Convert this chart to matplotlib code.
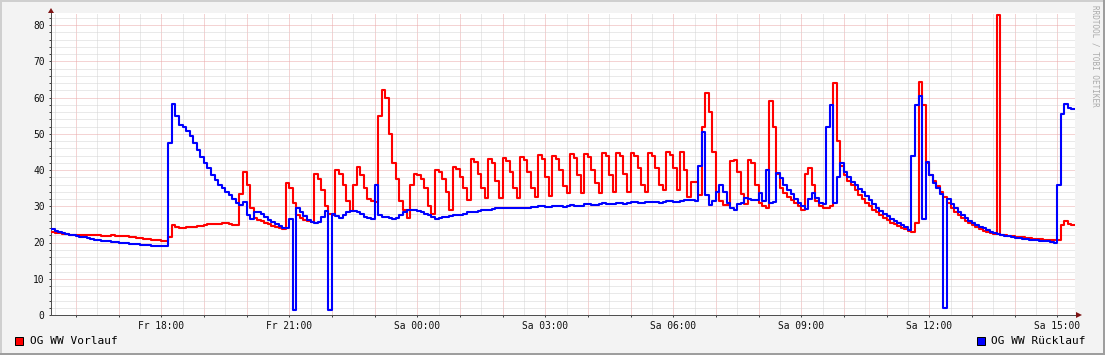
import numpy as np
import matplotlib
matplotlib.use("Agg")
import matplotlib.pyplot as plt
from matplotlib.patches import Polygon, Rectangle
from matplotlib.ticker import FixedLocator, MultipleLocator

# 5 minute samples, Fr 15:25 .. Sa 15:25 (hours counted from Fr 00:00)
START_HOUR = 15 + 25 / 60.0
STEP_HOURS = 5 / 60.0

# OG WW Vorlauf (red), one row per hour
vorlauf = [
    22.8, 22.6, 22.5, 22.4, 22.3, 22.2, 22.2, 22.1, 22.1, 22.0, 22.0, 22.0,
    22.0, 22.0, 21.9, 21.9, 21.9, 22.0, 21.9, 21.8, 21.8, 21.7, 21.6, 21.4,
    21.3, 21.2, 21.1, 21.0, 20.8, 20.7, 20.6, 20.5, 20.5, 21.5, 24.8, 24.2,
    24.1, 24.1, 24.2, 24.3, 24.4, 24.5, 24.6, 24.8, 25.0, 25.0, 25.1, 25.1,
    25.3, 25.3, 25.1, 24.9, 24.7, 33.5, 39.5, 36.0, 29.5, 26.8, 26.2, 25.8,
    25.3, 25.0, 24.6, 24.3, 24.0, 23.7, 36.5, 35.0, 31.0, 27.5, 26.8, 26.3,
    26.0, 25.6, 38.8, 37.5, 34.5, 30.0, 28.0, 27.5, 40.0, 39.0, 36.0, 31.5,
    28.8, 36.0, 40.8, 38.5, 35.0, 32.0, 31.5, 31.2, 55.0, 62.0, 60.0, 50.0,
    42.0, 37.5, 31.5, 29.0, 26.8, 36.0, 38.8, 38.5, 37.5, 35.0, 30.0, 28.0,
    40.0, 39.5, 37.5, 34.0, 29.0, 40.7, 40.2, 38.0, 35.0, 31.7, 43.0, 42.3,
    39.0, 35.0, 32.2, 43.0, 42.0, 37.0, 32.2, 43.2, 42.5, 39.5, 35.0, 32.2,
    43.7, 42.8, 39.5, 35.0, 32.6, 44.1, 43.0, 38.0, 32.8, 43.9, 43.0, 40.0,
    35.5, 33.6, 44.4, 43.3, 38.5, 33.6, 44.4, 43.5, 40.0, 36.5, 33.6, 44.8,
    43.8, 38.5, 33.8, 44.8, 43.8, 39.0, 34.0, 44.8, 44.0, 40.5, 36.0, 34.0,
    44.8, 44.0, 40.5, 36.0, 34.5, 45.1, 44.2, 40.5, 34.5, 45.1, 40.0, 32.5,
    36.8, 36.8, 33.0, 52.0, 61.2, 56.0, 45.0, 34.0, 31.5, 30.3, 30.3, 42.5,
    42.8, 39.5, 33.5, 30.5, 42.8, 42.0, 36.0, 30.8, 30.0, 29.6, 58.9, 52.0,
    39.0, 35.0, 33.6, 32.5, 31.7, 31.0, 30.0, 29.0, 39.0, 40.5, 36.0, 31.5,
    30.0, 29.5, 29.5, 30.0, 64.1, 48.0, 41.0, 38.5, 37.0, 35.8, 34.5, 33.2,
    32.0, 31.0, 30.0, 29.0, 28.3, 27.5, 26.8, 26.2, 25.5, 25.0, 24.5, 24.1,
    23.8, 23.2, 23.0, 25.5, 64.4, 58.0, 42.0, 38.5, 37.0, 35.5, 34.0, 32.5,
    31.0, 29.5, 28.5, 27.5, 26.8, 26.0, 25.4, 24.8, 24.2, 23.7, 23.3, 23.0,
    22.7, 22.4, 82.8, 22.2, 22.0, 21.9, 21.8, 21.6, 21.5, 21.4, 21.3, 21.2,
    21.0, 21.0, 20.9, 20.8, 20.8, 20.7, 20.6, 20.6, 24.8, 25.8, 25.0, 24.9,
]

# OG WW Ruecklauf (blue)
ruecklauf = [
    23.6, 23.3, 23.0, 22.7, 22.4, 22.2, 22.0, 21.8, 21.6, 21.4, 21.2, 21.0,
    20.8, 20.7, 20.5, 20.4, 20.3, 20.2, 20.1, 20.0, 19.9, 19.8, 19.7, 19.6,
    19.5, 19.4, 19.3, 19.2, 19.1, 19.1, 19.0, 19.0, 18.9, 47.5, 58.2, 55.0,
    52.5, 52.0, 50.8, 49.5, 47.5, 45.5, 43.5, 42.0, 40.5, 38.5, 37.2, 36.0,
    35.0, 34.0, 33.0, 32.0, 31.0, 30.3, 31.3, 27.5, 26.5, 28.3, 28.5, 27.8,
    27.0, 26.3, 25.7, 25.0, 24.6, 24.0, 24.0, 26.5, 1.5, 29.4, 28.5, 27.2,
    26.3, 25.7, 25.4, 25.6, 27.0, 28.7, 1.5, 28.0, 27.3, 26.8, 27.5, 28.3,
    28.7, 28.7, 28.3, 27.8, 27.0, 26.7, 26.5, 35.9, 27.6, 27.1, 27.1, 26.8,
    26.4, 26.8, 27.6, 28.3, 29.0, 29.0, 29.0, 28.8, 28.5, 28.0, 27.5, 27.0,
    26.4, 26.8, 27.1, 27.1, 27.4, 27.6, 27.6, 27.6, 27.8, 28.3, 28.5, 28.5,
    28.7, 29.0, 29.0, 29.0, 29.2, 29.4, 29.5, 29.6, 29.6, 29.6, 29.6, 29.6,
    29.6, 29.4, 29.5, 29.8, 29.9, 30.1, 30.1, 29.9, 29.9, 30.0, 30.2, 30.0,
    29.9, 30.1, 30.3, 30.2, 30.0, 30.2, 30.5, 30.5, 30.3, 30.4, 30.6, 30.8,
    30.6, 30.5, 30.7, 30.9, 30.8, 30.6, 30.8, 31.1, 31.2, 31.0, 30.8, 31.1,
    31.3, 31.3, 31.1, 31.0, 31.3, 31.5, 31.5, 31.3, 31.2, 31.5, 31.8, 31.8,
    31.8, 31.5, 41.0, 50.6, 33.0, 30.3, 31.5, 34.0, 35.9, 34.0, 31.0, 29.5,
    29.0, 30.5, 31.0, 32.2, 32.0, 31.7, 31.8, 33.6, 31.5, 40.0, 31.0, 31.2,
    39.3, 37.8, 36.0, 34.5, 33.3, 32.0, 31.0, 30.0, 29.3, 32.0, 33.6, 32.3,
    31.0, 30.5, 52.0, 58.0, 31.0, 38.0, 42.0, 39.5, 38.0, 36.8, 35.8, 34.8,
    33.8, 32.8, 31.6, 30.6, 29.6, 28.8, 28.0, 27.3, 26.6, 26.0, 25.3, 24.8,
    24.3, 23.5, 44.0, 58.0, 60.3, 26.5, 42.3, 38.5, 36.5, 35.0, 33.5, 2.0,
    32.0, 30.5, 29.5, 28.5, 27.6, 26.8, 26.0, 25.5, 24.9, 24.4, 23.9, 23.4,
    23.0, 22.7, 22.4, 22.1, 21.9, 21.7, 21.5, 21.3, 21.2, 21.0, 20.9, 20.8,
    20.7, 20.6, 20.5, 20.4, 20.3, 20.2, 20.0, 36.0, 55.5, 58.3, 57.0, 56.8,
]

tick_hours = [18, 21, 24, 27, 30, 33, 36, 39]
tick_labels = ["Fr 18:00", "Fr 21:00", "Sa 00:00", "Sa 03:00",
               "Sa 06:00", "Sa 09:00", "Sa 12:00", "Sa 15:00"]
y_ticks = [0, 10, 20, 30, 40, 50, 60, 70, 80]

W, H = 1105, 355
MONO = ["DejaVu Sans Mono"]
plt.rcParams['font.family'] = MONO

def fx(px):
    return px / W

def fy(py):
    return (H - py) / H

n = len(vorlauf)
t = START_HOUR + np.arange(n + 1) * STEP_HOURS
red = np.append(vorlauf, vorlauf[-1])
blue = np.append(ruecklauf, ruecklauf[-1])

fig = plt.figure(figsize=(W / 100, H / 100), dpi=100, facecolor='#f3f3f3')
ax = fig.add_axes([fx(51), fy(315), 1024 / W, 302 / H])
ax.set_facecolor('white')

ax.plot(t, red, drawstyle='steps-post', color='#ff0000', lw=1.5, zorder=3)
ax.plot(t, blue, drawstyle='steps-post', color='#0000ff', lw=1.5, zorder=4)

ax.set_xlim(START_HOUR, START_HOUR + 24)
ax.set_ylim(0, 302 / 3.625)

major_hours = list(range(16, 40))
ax.xaxis.set_major_locator(FixedLocator(major_hours))
ax.xaxis.set_minor_locator(MultipleLocator(0.5))
ax.set_xticklabels([tick_labels[tick_hours.index(h)] if h in tick_hours else ""
                    for h in major_hours])
ax.set_yticks(y_ticks)
ax.yaxis.set_minor_locator(MultipleLocator(2))

dots = (0, (1, 1))
ax.set_axisbelow(True)
ax.grid(which='minor', color='#d4d4d4', ls=dots, lw=0.72)
ax.grid(which='major', color='#eba8a8', ls=dots, lw=0.72)

ax.tick_params(axis='x', which='major', length=1.6, width=0.72, color='#404040',
               labelsize=6.9, pad=2.6, labelcolor='#111111')
ax.tick_params(axis='x', which='minor', length=0)
ax.tick_params(axis='y', which='both', length=1.6, width=0.72, color='#404040',
               labelsize=6.9, pad=3.0, labelcolor='#111111')

for side in ('top', 'right'):
    ax.spines[side].set_visible(False)
for side in ('left', 'bottom'):
    ax.spines[side].set_color('#505050')
    ax.spines[side].set_linewidth(0.72)

# axis arrows
arrow_col = '#7f1414'
fig.add_artist(Polygon([(fx(48), fy(13)), (fx(54), fy(13)), (fx(51), fy(8))],
                       closed=True, transform=fig.transFigure, color=arrow_col, lw=0))
fig.add_artist(Polygon([(fx(1076), fy(312)), (fx(1076), fy(318)), (fx(1082), fy(315))],
                       closed=True, transform=fig.transFigure, color=arrow_col, lw=0))

# legend
fig.add_artist(Rectangle((fx(15), fy(345)), 8 / W, 8 / H, transform=fig.transFigure,
                         facecolor='#ff0000', edgecolor='black', lw=0.72))
fig.text(fx(30), fy(341), "OG WW Vorlauf", fontsize=8, va='center', ha='left')
fig.add_artist(Rectangle((fx(977), fy(345)), 8 / W, 8 / H, transform=fig.transFigure,
                         facecolor='#0000ff', edgecolor='black', lw=0.72))
fig.text(fx(991), fy(341), "OG WW Rücklauf", fontsize=8, va='center', ha='left')

# watermark
fig.text(fx(1095), fy(5), "RRDTOOL / TOBI OETIKER", fontsize=5.5, color='#aaaaaa',
         rotation=270, va='top', ha='center')

# 3d frame
fig.add_artist(Rectangle((0, fy(2)), 1, 2 / H, transform=fig.transFigure, color='#cfcfcf', lw=0))
fig.add_artist(Rectangle((0, 0), 2 / W, 1, transform=fig.transFigure, color='#cfcfcf', lw=0))
fig.add_artist(Rectangle((0, 0), 1, 2 / H, transform=fig.transFigure, color='#9e9e9e', lw=0))
fig.add_artist(Rectangle((fx(1103), 0), 2 / W, 1, transform=fig.transFigure, color='#9e9e9e', lw=0))

fig.savefig('out.png', dpi=100, facecolor=fig.get_facecolor())
